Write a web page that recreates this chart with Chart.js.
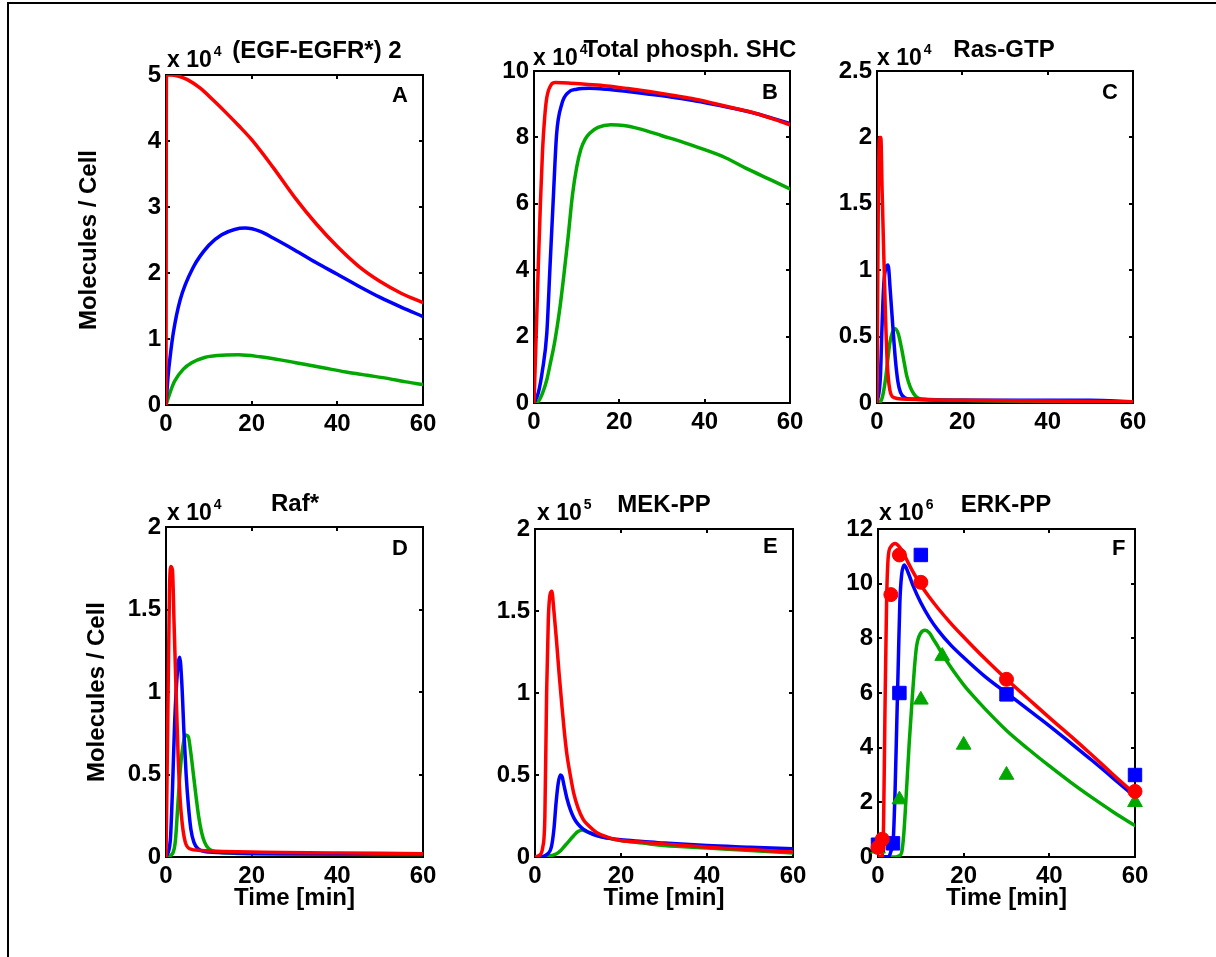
<!DOCTYPE html>
<html><head><meta charset="utf-8">
<script src="https://cdn.jsdelivr.net/npm/chart.js@4/dist/chart.umd.min.js"></script>
<style>
html,body{margin:0;padding:0;background:#fff;}
body{width:1216px;height:957px;position:relative;overflow:hidden;}
#frame{position:absolute;left:7px;top:2px;width:1230px;height:980px;border-top:2px solid #000;border-left:2px solid #000;box-sizing:border-box;}
canvas{position:absolute;}
</style></head><body>
<div id="frame"></div>
<script>
// ---------- tick values and labels ----------
const timeTicks = [0, 20, 40, 60];
const timeTickLabels = ['0', '20', '40', '60'];
const yTicksA = [0, 1, 2, 3, 4, 5];
const yLabelsA = ['0', '1', '2', '3', '4', '5'];
const yTicksB = [0, 2, 4, 6, 8, 10];
const yLabelsB = ['0', '2', '4', '6', '8', '10'];
const yTicksC = [0, 0.5, 1, 1.5, 2, 2.5];
const yLabelsC = ['0', '0.5', '1', '1.5', '2', '2.5'];
const yTicksD = [0, 0.5, 1, 1.5, 2];
const yLabelsD = ['0', '0.5', '1', '1.5', '2'];
const yTicksE = [0, 0.5, 1, 1.5, 2];
const yLabelsE = ['0', '0.5', '1', '1.5', '2'];
const yTicksF = [0, 2, 4, 6, 8, 10, 12];
const yLabelsF = ['0', '2', '4', '6', '8', '10', '12'];

// ---------- series: [time (min), value in axis units] ----------
// A: (EGF-EGFR*)2  x 10^4
const aRed = [[0,0],[0.1,5.0],[1,5.0],[3,4.98],[5,4.93],[8,4.8],[11,4.62],[14,4.43],[17,4.23],[20,4.02],[25,3.6],[30,3.15],[35,2.75],[40,2.4],[45,2.1],[50,1.87],[55,1.69],[60,1.55]];
const aBlue = [[0,0],[0.5,0.45],[1,0.75],[1.7,1.09],[3.3,1.59],[6.4,2.09],[10,2.42],[13,2.58],[16,2.66],[18.5,2.68],[22,2.63],[25,2.53],[30,2.35],[35,2.16],[40,1.98],[45,1.8],[50,1.63],[55,1.48],[60,1.34]];
const aGreen = [[0,0],[1,0.2],[2,0.36],[4,0.54],[6,0.64],[9,0.72],[12,0.75],[17,0.76],[22,0.73],[27,0.68],[32,0.62],[37,0.56],[42,0.5],[47,0.45],[52,0.4],[56,0.35],[60,0.31]];
// B: Total phosph. SHC  x 10^4
const bRed = [[0,0],[0.5,2.0],[1,4.1],[1.5,6.0],[2,7.6],[2.5,8.6],[3,9.2],[4,9.58],[5,9.65],[8,9.64],[12,9.6],[17,9.55],[22,9.47],[27,9.38],[32,9.28],[37,9.17],[42,9.03],[47,8.88],[52,8.72],[56,8.56],[60,8.38]];
const bBlue = [[0,0],[1,0.3],[2,1.0],[3,2.1],[3.75,4.1],[4.5,6.1],[5.3,8.1],[6.5,9.0],[8,9.35],[10,9.45],[13,9.48],[17,9.45],[22,9.38],[27,9.3],[32,9.22],[37,9.12],[42,9.0],[47,8.87],[52,8.72],[56,8.57],[60,8.42]];
const bGreen = [[0,0],[1,0.05],[2,0.3],[3,0.7],[4,1.3],[4.5,1.6],[5,1.95],[6,2.8],[7,3.85],[8,5.0],[9,6.25],[10,7.1],[11,7.65],[12,7.95],[13,8.12],[15,8.3],[18,8.38],[21,8.36],[25,8.25],[30,8.05],[35,7.85],[40,7.63],[45,7.38],[50,7.05],[55,6.75],[60,6.45]];
// C: Ras-GTP  x 10^4
const cRed = [[0,0],[0.3,1.5],[0.6,2.0],[0.9,2.0],[1.2,1.6],[1.6,1.1],[2.0,0.65],[2.4,0.3],[3,0.1],[4,0.04],[6,0.03],[20,0.02],[60,0.01]];
const cBlue = [[0,0],[0.8,0.2],[1.2,0.6],[1.6,0.9],[2.1,1.02],[2.6,1.04],[3.1,0.85],[3.7,0.58],[4.3,0.33],[4.9,0.16],[5.5,0.08],[6.5,0.04],[8,0.03],[20,0.02],[50,0.02],[60,0.01]];
const cGreen = [[0,0],[1,0.02],[1.5,0.08],[2,0.18],[2.5,0.32],[3,0.45],[3.6,0.53],[4.3,0.56],[5,0.52],[5.7,0.42],[6.4,0.3],[7,0.2],[7.8,0.12],[8.6,0.07],[9.5,0.04],[11,0.03],[20,0.02],[60,0.01]];
// D: Raf*  x 10^4
const dRed = [[0,0],[0.4,0.8],[0.8,1.6],[1.1,1.76],[1.5,1.74],[1.9,1.4],[2.3,1.05],[2.8,0.63],[3.3,0.35],[3.8,0.2],[4.5,0.09],[5.5,0.05],[8,0.04],[20,0.03],[40,0.025],[60,0.02]];
const dBlue = [[0,0],[1,0.1],[1.5,0.4],[2,0.8],[2.6,1.1],[3.2,1.21],[3.7,1.05],[4.2,0.75],[4.7,0.5],[5.2,0.32],[5.8,0.17],[6.5,0.09],[7.5,0.05],[10,0.03],[30,0.02],[60,0.02]];
const dGreen = [[0,0],[1.5,0.02],[2.2,0.1],[2.8,0.33],[3.4,0.55],[4,0.68],[4.6,0.74],[5.2,0.73],[5.8,0.63],[6.4,0.5],[7,0.37],[7.6,0.25],[8.3,0.15],[9,0.09],[10,0.05],[12,0.03],[20,0.02],[60,0.015]];
// E: MEK-PP  x 10^5
const eRed = [[0,0],[1,0.01],[1.8,0.06],[2.3,0.25],[2.7,1.0],[3.1,1.45],[3.5,1.6],[3.9,1.62],[4.4,1.5],[5,1.32],[5.6,1.12],[6.2,0.94],[6.8,0.77],[7.4,0.63],[8.2,0.5],[9,0.39],[10,0.3],[11.2,0.23],[12.5,0.19],[14.3,0.15],[17,0.12],[20,0.1],[25,0.09],[30,0.08],[40,0.06],[50,0.045],[60,0.03]];
const eBlue = [[0,0],[2,0.005],[3,0.02],[3.8,0.06],[4.4,0.17],[4.9,0.33],[5.4,0.45],[5.9,0.5],[6.3,0.49],[6.8,0.43],[7.4,0.36],[8.2,0.29],[9,0.24],[10,0.2],[11.2,0.17],[12.5,0.15],[14.3,0.13],[17,0.115],[20,0.105],[25,0.095],[30,0.085],[40,0.07],[50,0.06],[60,0.05]];
const eGreen = [[0,0],[3,0.005],[5,0.02],[6,0.04],[7,0.07],[8,0.1],[9,0.13],[10,0.155],[11,0.165],[12,0.155],[14,0.135],[17,0.115],[20,0.1],[25,0.085],[30,0.07],[40,0.055],[50,0.04],[60,0.025]];
// F: ERK-PP  x 10^6 (model curves)
const fRed = [[0,0],[1,0.05],[1.3,1.2],[1.6,5.0],[2.0,9.3],[2.4,11.0],[3,11.35],[4,11.47],[5,11.35],[6,11.1],[7,10.78],[8,10.48],[10,9.95],[12,9.5],[14,9.1],[17,8.55],[20,8.05],[25,7.25],[30,6.5],[35,5.8],[40,5.1],[45,4.42],[50,3.72],[55,3.0],[60,2.3]];
const fBlue = [[0,0],[2.5,0.02],[3,0.2],[3.6,0.74],[4,2.5],[4.4,5.0],[4.8,7.5],[5.1,9.3],[5.5,10.3],[6.1,10.68],[7,10.42],[8.2,9.92],[10,9.3],[12,8.75],[14,8.3],[17,7.75],[20,7.3],[25,6.6],[30,6.0],[35,5.4],[40,4.8],[45,4.17],[50,3.53],[55,2.87],[60,2.2]];
const fGreen = [[0,0],[4,0],[5,0.05],[5.5,0.15],[6,0.8],[6.7,2.57],[7.3,4.2],[7.9,5.6],[8.5,6.9],[9,7.7],[10,8.2],[11,8.3],[12,8.2],[13,7.95],[14,7.7],[15,7.42],[16,7.18],[18,6.72],[20,6.3],[22,5.93],[25,5.42],[30,4.63],[35,3.96],[40,3.33],[45,2.73],[50,2.17],[55,1.64],[60,1.15]];
// F: experimental points x 10^6
const fRedPts = [[0,0.35],[1,0.65],[3,9.6],[5,11.05],[10,10.05],[30,6.5],[60,2.4]];
const fBluePts = [[0,0.45],[3.5,0.5],[5,6.0],[10,11.05],[30,5.95],[60,3.0]];
const fGreenPts = [[0,0.3],[5,2.1],[10,5.75],[15,7.35],[20,4.1],[30,3.0],[60,2.0]];

// ---------- styling ----------
const RED = '#ff0000', BLUE = '#0000ff', GREEN = '#00a800';
const FONT = '"Liberation Sans", Arial, Helvetica, sans-serif';

function toXY(pairs) { return pairs.map(p => ({x: p[0], y: p[1]})); }
function curve(pairs, color) {
  return {data: toXY(pairs), borderColor: color, backgroundColor: color, borderWidth: 3.5,
    pointRadius: 0, fill: false, cubicInterpolationMode: 'monotone',
    borderJoinStyle: 'round', borderCapStyle: 'round'};
}
function marks(pairs, color, style, r) {
  return {data: toXY(pairs), showLine: false, pointStyle: style, pointRadius: r,
    pointBackgroundColor: color, pointBorderColor: color, pointBorderWidth: 1,
    borderColor: color, backgroundColor: color, clip: false};
}

const panels = [
  {id: 'A', box: [166, 75, 423, 405], yMax: 5, yTicks: yTicksA, yLabels: yLabelsA, exp: '4',
   title: '(EGF-EGFR*) 2', titlePos: [317, 58], expPos: [167, 67], letterPos: [392, 102], yTitleX: 89, xTitle: false,
   datasets: [curve(aRed, RED), curve(aBlue, BLUE), curve(aGreen, GREEN)]},
  {id: 'B', box: [534, 71, 790, 403], yMax: 10, yTicks: yTicksB, yLabels: yLabelsB, exp: '4',
   title: 'Total phosph. SHC', titlePos: [690, 57], expPos: [533, 65], letterPos: [762, 99], yTitleX: null, xTitle: false,
   datasets: [curve(bRed, RED), curve(bBlue, BLUE), curve(bGreen, GREEN)]},
  {id: 'C', box: [877, 71, 1133, 403], yMax: 2.5, yTicks: yTicksC, yLabels: yLabelsC, exp: '4',
   title: 'Ras-GTP', titlePos: [1004, 57], expPos: [877, 65], letterPos: [1102, 99], yTitleX: null, xTitle: false,
   datasets: [curve(cRed, RED), curve(cBlue, BLUE), curve(cGreen, GREEN)]},
  {id: 'D', box: [166, 527, 423, 857], yMax: 2, yTicks: yTicksD, yLabels: yLabelsD, exp: '4',
   title: 'Raf*', titlePos: [295, 511], expPos: [167, 520], letterPos: [392, 555], yTitleX: 97, xTitle: true,
   datasets: [curve(dRed, RED), curve(dBlue, BLUE), curve(dGreen, GREEN)]},
  {id: 'E', box: [535, 529, 793, 857], yMax: 2, yTicks: yTicksE, yLabels: yLabelsE, exp: '5',
   title: 'MEK-PP', titlePos: [664, 512], expPos: [537, 520], letterPos: [763, 553], yTitleX: null, xTitle: true,
   datasets: [curve(eRed, RED), curve(eBlue, BLUE), curve(eGreen, GREEN)]},
  {id: 'F', box: [878, 529, 1135, 857], yMax: 12, yTicks: yTicksF, yLabels: yLabelsF, exp: '6',
   title: 'ERK-PP', titlePos: [1006, 512], expPos: [879, 520], letterPos: [1112, 555], yTitleX: null, xTitle: true,
   datasets: [marks(fRedPts, RED, 'circle', 7), marks(fBluePts, BLUE, 'rect', 9.5), marks(fGreenPts, GREEN, 'triangle', 8.5),
              curve(fRed, RED), curve(fBlue, BLUE), curve(fGreen, GREEN)]}
];

const framePlugin = {
  id: 'axesFrame',
  beforeDatasetsDraw(chart) {
    const {ctx, chartArea: a, scales: {x, y}} = chart;
    ctx.save();
    ctx.strokeStyle = '#000';
    ctx.lineWidth = 2;
    ctx.strokeRect(a.left, a.top, a.right - a.left, a.bottom - a.top);
    const tl = 4;
    ctx.beginPath();
    x.ticks.forEach(t => {
      const px = Math.round(x.getPixelForValue(t.value));
      ctx.moveTo(px, a.bottom); ctx.lineTo(px, a.bottom - tl);
      ctx.moveTo(px, a.top); ctx.lineTo(px, a.top + tl);
    });
    y.ticks.forEach(t => {
      const py = Math.round(y.getPixelForValue(t.value));
      ctx.moveTo(a.left, py); ctx.lineTo(a.left + tl, py);
      ctx.moveTo(a.right, py); ctx.lineTo(a.right - tl, py);
    });
    ctx.stroke();
    ctx.restore();
  }
};

function textPlugin(p, cl, ct) {
  return {
    id: 'panelText' + p.id,
    afterDraw(chart) {
      const ctx = chart.ctx;
      ctx.save();
      ctx.fillStyle = '#000';
      ctx.textBaseline = 'alphabetic';
      ctx.textAlign = 'left';
      ctx.font = 'bold 23px ' + FONT;
      const ex = p.expPos[0] - cl, ey = p.expPos[1] - ct;
      ctx.fillText('x 10', ex, ey);
      const w = ctx.measureText('x 10').width;
      ctx.font = 'bold 14px ' + FONT;
      ctx.fillText(p.exp, ex + w + 2, ey - 11);
      ctx.font = 'bold 24px ' + FONT;
      ctx.textAlign = 'center';
      ctx.fillText(p.title, p.titlePos[0] - cl, p.titlePos[1] - ct);
      ctx.font = 'bold 22px ' + FONT;
      ctx.textAlign = 'left';
      ctx.fillText(p.id, p.letterPos[0] - cl, p.letterPos[1] - ct);
      ctx.restore();
    }
  };
}

const tickFont = {family: FONT, size: 24, weight: 'bold', lineHeight: 1.2};
const titleFont = {family: FONT, size: 24, weight: 'bold', lineHeight: 1.2};

function makePanel(p) {
  const [L, T, R, B] = p.box;
  const ML = 140, MT = 80, MR = 30, MB = 70;
  const cl = L - ML, ct = T - MT, cw = R - L + ML + MR, ch = B - T + MT + MB;
  const canvas = document.createElement('canvas');
  canvas.width = cw; canvas.height = ch;
  canvas.style.left = cl + 'px'; canvas.style.top = ct + 'px';
  canvas.style.width = cw + 'px'; canvas.style.height = ch + 'px';
  document.body.appendChild(canvas);
  const padL = p.yTitleX ? (p.yTitleX - cl - 14.4) : 40;
  const yAxisW = ML - padL;
  const xAxisH = 56;
  new Chart(canvas, {
    type: 'line',
    data: {datasets: p.datasets},
    options: {
      responsive: false, animation: false, events: [], devicePixelRatio: 1,
      layout: {padding: {left: padL, top: MT, right: MR, bottom: MB - xAxisH}},
      plugins: {legend: {display: false}, tooltip: {enabled: false}, title: {display: false}},
      scales: {
        x: {
          type: 'linear', position: 'bottom', min: 0, max: 60,
          afterBuildTicks: s => { s.ticks = timeTicks.map(v => ({value: v})); },
          afterFit: s => { s.height = xAxisH; },
          grid: {display: false, drawTicks: false}, border: {display: false},
          ticks: {autoSkip: false, maxRotation: 0, minRotation: 0, padding: 5, color: '#000', font: tickFont,
                  callback: v => timeTickLabels[timeTicks.indexOf(v)]},
          title: {display: p.xTitle, text: 'Time [min]', color: '#000', padding: 0, font: titleFont}
        },
        y: {
          type: 'linear', position: 'left', min: 0, max: p.yMax,
          afterBuildTicks: s => { s.ticks = p.yTicks.map(v => ({value: v})); },
          afterFit: s => { s.width = yAxisW; },
          grid: {display: false, drawTicks: false}, border: {display: false},
          ticks: {autoSkip: false, padding: 5, color: '#000', font: tickFont,
                  callback: v => p.yLabels[p.yTicks.indexOf(v)]},
          title: {display: !!p.yTitleX, text: 'Molecules / Cell', color: '#000', padding: 0, font: titleFont}
        }
      }
    },
    plugins: [framePlugin, textPlugin(p, cl, ct)]
  });
}

panels.forEach(makePanel);
</script>
</body></html>
